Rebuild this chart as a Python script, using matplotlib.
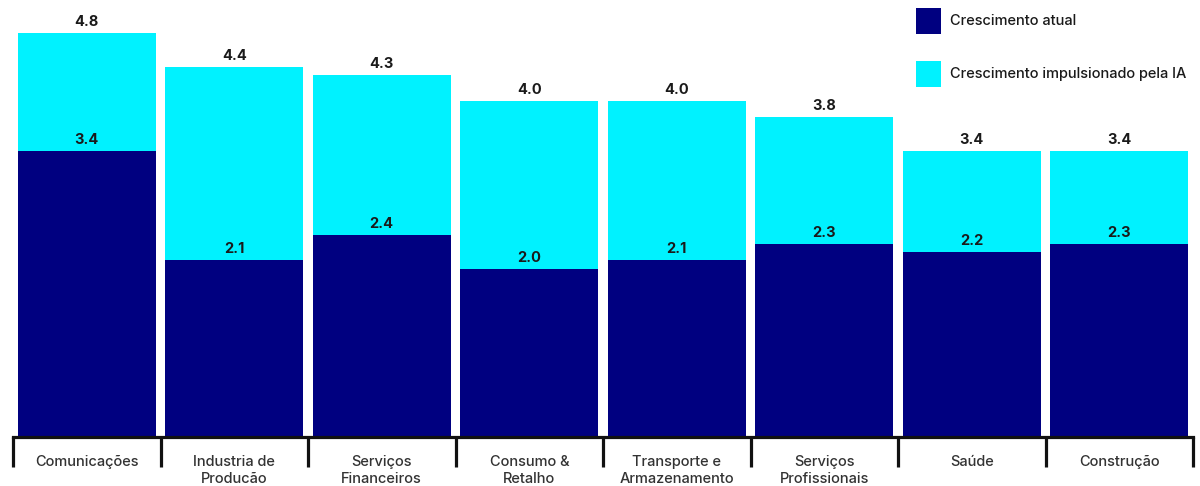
import matplotlib
matplotlib.use("Agg")
import matplotlib.pyplot as plt
import numpy as np

categories = ["Comunicações", "Industria de\nProducão", "Serviços\nFinanceiros",
              "Consumo &\nRetalho", "Transporte e\nArmazenamento", "Serviços\nProfissionais",
              "Saúde", "Construção"]
atual = [3.4, 2.1, 2.4, 2.0, 2.1, 2.3, 2.2, 2.3]
total_ia = [4.8, 4.4, 4.3, 4.0, 4.0, 3.8, 3.4, 3.4]
legend_labels = ["Crescimento atual", "Crescimento impulsionado pela IA"]

navy = "#000080"
cyan = "#00F2FF"
text_col = "#1a1a1a"

plt.rcParams["font.family"] = ["Inter", "DejaVu Sans"]

W, H = 1200, 486
fig = plt.figure(figsize=(W / 100, H / 100), dpi=100)
ax = fig.add_axes([13 / W, 49 / H, 1180 / W, 437 / H])

x = np.arange(len(categories))
width = 0.936
extra = [t - a for t, a in zip(total_ia, atual)]
ax.bar(x, atual, width=width, color=navy, linewidth=0)
ax.bar(x, extra, bottom=atual, width=width, color=cyan, linewidth=0)

for xi, a, t in zip(x, atual, total_ia):
    ax.annotate(f"{a:.1f}", (xi, a), xytext=(0, 4), textcoords="offset pixels",
                ha="center", va="bottom", fontsize=10.5, fontweight="bold", color=text_col)
    ax.annotate(f"{t:.1f}", (xi, t), xytext=(0, 4), textcoords="offset pixels",
                ha="center", va="bottom", fontsize=10.5, fontweight="bold", color=text_col)

ax.set_xlim(-0.5, len(categories) - 0.5)
ax.set_ylim(0, 437 / 84.1)

for s in ["top", "right", "left"]:
    ax.spines[s].set_visible(False)
ax.spines["bottom"].set_linewidth(2.3)
ax.spines["bottom"].set_color("#111111")
ax.set_yticks([])

ax.set_xticks(x)
ax.set_xticklabels(categories, fontsize=10.5, color="#333333", linespacing=1.3,
                   fontweight="medium")
ax.tick_params(axis="x", which="major", length=0, pad=13)
ax.set_xticks(np.arange(-0.5, len(categories)), minor=True)
ax.tick_params(axis="x", which="minor", length=21.6, width=2.3, color="#111111")

# legend swatches and labels
for i, (lab, col) in enumerate(zip(legend_labels, [navy, cyan])):
    y_top = 8 + i * 53
    fig.patches.append(plt.Rectangle((916 / W, 1 - (y_top + 26) / H), 25 / W, 26 / H,
                                     transform=fig.transFigure, color=col, linewidth=0))
    fig.text(950 / W, 1 - (y_top + 13) / H, lab, ha="left", va="center",
             fontsize=10.5, color=text_col, fontweight="medium")

fig.savefig("out.png", dpi=100)
